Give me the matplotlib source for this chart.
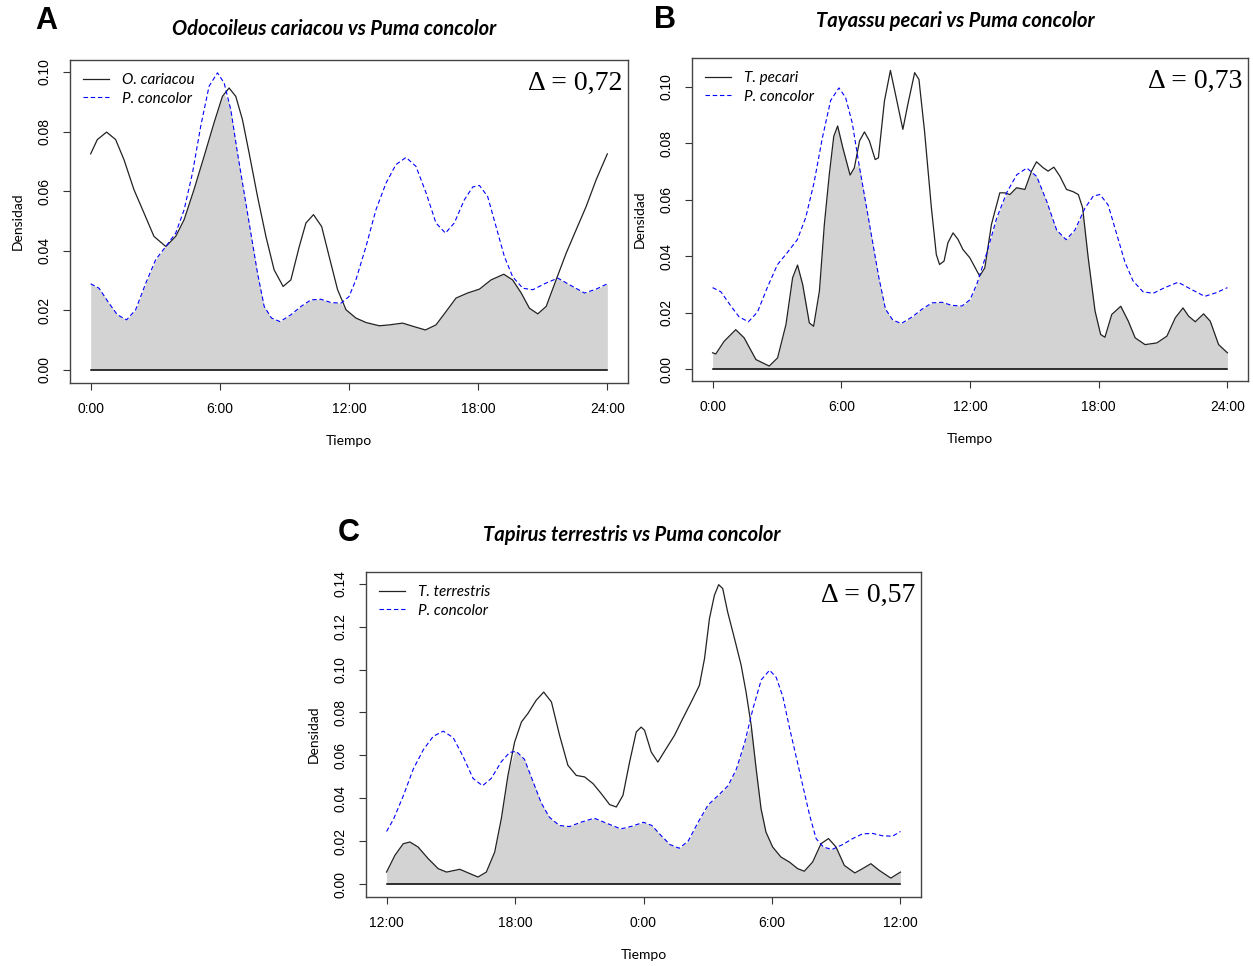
import numpy as np
import matplotlib
matplotlib.use("Agg")
import matplotlib.pyplot as plt

# ---------------------------------------------------------------
# densities (hour of day, density)

# Puma concolor (same curve in the three panels)
puma_h = [0.0, 0.39, 0.85, 1.24, 1.67, 2.09, 2.56, 3.02, 3.49, 3.95, 4.34, 4.73, 5.11, 5.5,
          5.89, 6.2, 6.51, 6.82, 7.13, 7.44, 7.75, 8.06, 8.4, 8.8, 9.3, 9.77, 10.23, 10.7,
          11.16, 11.63, 12.0, 12.32, 12.79, 13.25, 13.72, 14.18, 14.65, 15.11, 15.58, 16.04,
          16.48, 16.89, 17.36, 17.75, 18.06, 18.44, 18.83, 19.22, 19.6, 20.07, 20.54, 21.08,
          21.7, 22.24, 22.94, 23.48, 24.0]
puma_d = [0.0289, 0.0274, 0.0224, 0.0185, 0.0168, 0.0202, 0.0291, 0.0370, 0.0414, 0.0459,
          0.0537, 0.0661, 0.0817, 0.0952, 0.0997, 0.0963, 0.0873, 0.0728, 0.0594, 0.0459,
          0.0325, 0.0213, 0.0174, 0.0162, 0.0185, 0.0213, 0.0235, 0.0237, 0.0226, 0.0224,
          0.0246, 0.0302, 0.0414, 0.0537, 0.0627, 0.0689, 0.0713, 0.0683, 0.0594, 0.0493,
          0.0459, 0.0493, 0.0571, 0.0614, 0.0619, 0.0582, 0.0481, 0.0380, 0.0313, 0.0274,
          0.0269, 0.0289, 0.0308, 0.0286, 0.0258, 0.0271, 0.0289]

# Odocoileus cariacou
venado_h = [0.0, 0.31, 0.74, 1.16, 1.55, 2.01, 2.48, 2.94, 3.49, 3.95, 4.34, 4.8, 5.27, 5.73,
            6.12, 6.43, 6.74, 7.05, 7.36, 7.75, 8.14, 8.52, 8.94, 9.3, 9.69, 10.0, 10.35,
            10.73, 11.08, 11.47, 11.86, 12.32, 12.79, 13.41, 13.87, 14.49, 15.03, 15.55,
            16.04, 16.51, 16.97, 17.51, 18.06, 18.6, 19.19, 19.6, 20.0, 20.38, 20.77, 21.16,
            21.62, 22.09, 22.55, 23.02, 23.48, 24.0]
venado_d = [0.0725, 0.0773, 0.0798, 0.0773, 0.0705, 0.0605, 0.0526, 0.0448, 0.0414, 0.0448,
            0.0504, 0.0605, 0.0717, 0.0829, 0.0918, 0.0946, 0.0918, 0.0840, 0.0728, 0.0582,
            0.0448, 0.0336, 0.0280, 0.0302, 0.0414, 0.0493, 0.0521, 0.0481, 0.0380, 0.0269,
            0.0202, 0.0174, 0.0159, 0.0148, 0.0151, 0.0157, 0.0145, 0.0134, 0.0151, 0.0196,
            0.0241, 0.0258, 0.0271, 0.0302, 0.0321, 0.0302, 0.0258, 0.0207, 0.0188, 0.0213,
            0.0302, 0.0392, 0.0470, 0.0549, 0.0638, 0.0725]

# Tayassu pecari
pecari_h = [0.0, 0.15, 0.54, 1.08, 1.47, 2.02, 2.64, 3.03, 3.42, 3.73, 3.96, 4.2, 4.51, 4.71,
            4.98, 5.21, 5.44, 5.65, 5.83, 6.07, 6.41, 6.61, 6.85, 7.08, 7.31, 7.58, 7.73,
            8.01, 8.29, 8.56, 8.87, 9.1, 9.42, 9.62, 9.88, 10.2, 10.43, 10.58, 10.79, 10.97,
            11.21, 11.44, 11.67, 11.99, 12.45, 12.69, 13.0, 13.39, 13.62, 13.86, 14.17, 14.56,
            14.87, 15.1, 15.41, 15.64, 15.91, 16.19, 16.5, 16.81, 17.05, 17.25, 17.51, 17.83,
            18.09, 18.29, 18.61, 19.03, 19.38, 19.7, 20.16, 20.71, 21.18, 21.57, 21.93, 22.19,
            22.5, 22.89, 23.2, 23.59, 24.0]
pecari_d = [0.0058, 0.0054, 0.0099, 0.0140, 0.0111, 0.0034, 0.0011, 0.0040, 0.0158, 0.0324,
            0.0369, 0.0300, 0.0164, 0.0152, 0.0277, 0.0513, 0.0690, 0.0826, 0.0862, 0.0785,
            0.0688, 0.0714, 0.0809, 0.0841, 0.0809, 0.0743, 0.0749, 0.0950, 0.1059, 0.0962,
            0.0850, 0.0938, 0.1051, 0.1027, 0.0844, 0.0572, 0.0406, 0.0371, 0.0383, 0.0448,
            0.0483, 0.0460, 0.0424, 0.0395, 0.0330, 0.0359, 0.0513, 0.0625, 0.0625, 0.0619,
            0.0643, 0.0637, 0.0702, 0.0735, 0.0714, 0.0702, 0.0716, 0.0684, 0.0637, 0.0629,
            0.0619, 0.0572, 0.0395, 0.0206, 0.0123, 0.0113, 0.0194, 0.0223, 0.0170, 0.0111,
            0.0087, 0.0093, 0.0117, 0.0182, 0.0217, 0.0188, 0.0168, 0.0196, 0.0170, 0.0087,
            0.0058]

# Tapirus terrestris (hours from 12:00 to 12:00 of next day -> 12..36)
tapir_h = [12.0, 12.39, 12.78, 13.09, 13.47, 13.94, 14.41, 14.8, 15.42, 15.89, 16.27, 16.66,
           17.05, 17.36, 17.67, 17.98, 18.3, 18.6, 18.99, 19.34, 19.7, 20.08, 20.47, 20.86,
           21.25, 21.64, 22.03, 22.42, 22.73, 23.04, 23.35, 23.66, 23.89, 24.05, 24.36,
           24.67, 25.06, 25.45, 25.83, 26.23, 26.61, 26.85, 27.08, 27.31, 27.51, 27.7, 27.93,
           28.25, 28.56, 28.79, 29.03, 29.26, 29.49, 29.72, 30.03, 30.42, 30.81, 31.2, 31.51,
           31.9, 32.29, 32.64, 32.99, 33.38, 33.87, 34.23, 34.62, 35.01, 35.55, 36.0]
tapir_d = [0.0057, 0.0135, 0.0189, 0.0197, 0.0174, 0.0120, 0.0073, 0.0057, 0.0070, 0.0050,
           0.0034, 0.0057, 0.0150, 0.0306, 0.0507, 0.0662, 0.0756, 0.0795, 0.0857, 0.0895,
           0.0849, 0.0694, 0.0554, 0.0507, 0.0500, 0.0469, 0.0422, 0.0371, 0.0360, 0.0414,
           0.0569, 0.0709, 0.0732, 0.0717, 0.0616, 0.0569, 0.0632, 0.0694, 0.0771, 0.0849,
           0.0926, 0.1051, 0.1237, 0.1345, 0.1395, 0.1377, 0.1268, 0.1144, 0.1020, 0.0895,
           0.0740, 0.0539, 0.0352, 0.0243, 0.0174, 0.0127, 0.0104, 0.0073, 0.0061, 0.0104,
           0.0189, 0.0213, 0.0174, 0.0088, 0.0053, 0.0073, 0.0096, 0.0065, 0.0029, 0.0057]

deltas = ["0,72", "0,73", "0,57"]
#------------------------------------------------------------------

W, H = 1253, 966
fig = plt.figure(figsize=(W / 100, H / 100), dpi=100)


def box(l, t, r, b):
    # pixel box -> figure fraction
    return [l / W, 1 - b / H, (r - l) / W, (b - t) / H]


def panel(rect, x1, y1, x2, y2, name, delta, ticks, ticklabels, ylim, yticks):
    ax = fig.add_axes(rect)
    x1 = np.asarray(x1); x2 = np.asarray(x2)
    # overlap area (minimum of both densities)
    xs = np.union1d(x1, x2)
    low = np.minimum(np.interp(xs, x1, y1), np.interp(xs, x2, y2))
    ax.fill_between(xs, 0, low, color="#d3d3d3", lw=0)
    ax.plot([xs[0], xs[-1]], [0, 0], color="black", lw=1.1)
    ax.plot(x1, y1, color="#222222", lw=0.9, label=name)
    ax.plot(x2, y2, color="blue", lw=0.8, ls=(0, (4, 2.5)), label="P. concolor")

    ax.set_xlim(ticks[0] - 0.96, ticks[-1] + 0.96)
    ax.set_ylim(*ylim)
    ax.set_xticks(ticks)
    ax.set_xticklabels(ticklabels, family="Liberation Sans", fontsize=10)
    ax.set_yticks(yticks)
    ax.set_yticklabels(["%.2f" % v for v in yticks], family="Liberation Sans",
                       fontsize=10, rotation=90, va="center")
    ax.tick_params(length=5, width=0.8, color="#333333")
    ax.tick_params(axis="x", pad=8.5)
    ax.tick_params(axis="y", pad=8)
    for s in ax.spines.values():
        s.set_color("#444444")
        s.set_linewidth(1.0)
    ax.set_xlabel("Tiempo", family="Lato", fontsize=10, labelpad=14)
    ax.set_ylabel("Densidad", family="Lato", fontsize=10, labelpad=10)
    ax.legend(loc="upper left", frameon=False, handlelength=1.7,
              prop={"family": "Lato", "style": "italic", "size": 11},
              borderaxespad=0.25, labelspacing=0.3, handletextpad=0.85,
              borderpad=0.6)
    ax.text(0.99, 0.965, "Δ = " + delta, transform=ax.transAxes, ha="right", va="top",
            family="Liberation Serif", fontsize=20)
    return ax


hours = [0, 6, 12, 18, 24]
hlabels = ["0:00", "6:00", "12:00", "18:00", "24:00"]

# panel A
panel(box(70, 60, 628, 383), venado_h, venado_d, puma_h, puma_d, "O. cariacou", deltas[0],
      hours, hlabels, (-0.0044, 0.104), [0, 0.02, 0.04, 0.06, 0.08, 0.10])

# panel B
panel(box(692, 58, 1248, 381), pecari_h, pecari_d, puma_h, puma_d, "T. pecari", deltas[1],
      hours, hlabels, (-0.0042, 0.1103), [0, 0.02, 0.04, 0.06, 0.08, 0.10])

# panel C: puma shifted to 12:00 - 12:00
ph = np.array(puma_h); pd_ = np.array(puma_d)
puma_c_h = np.concatenate([ph[ph >= 12], ph[ph <= 12][1:] + 24])
puma_c_d = np.concatenate([pd_[ph >= 12], pd_[ph <= 12][1:]])
panel(box(366, 572, 921, 897), tapir_h, tapir_d, puma_c_h, puma_c_d, "T. terrestris",
      deltas[2], [12, 18, 24, 30, 36], ["12:00", "18:00", "0:00", "6:00", "12:00"],
      (-0.0059, 0.1454), [0, 0.02, 0.04, 0.06, 0.08, 0.10, 0.12, 0.14])

# titles and panel letters
titles = [("Odocoileus cariacou vs Puma concolor", 334, 29),
          ("Tayassu pecari vs Puma concolor", 955, 21),
          ("Tapirus terrestris vs Puma concolor", 632, 535)]
for txt, x, y in titles:
    fig.text(x / W, 1 - y / H, txt, ha="center", va="center", family="Lato",
             weight="bold", style="italic", fontsize=14.5)

for lt, x, y in [("A", 46, 21), ("B", 665, 20), ("C", 349, 533)]:
    fig.text(x / W, 1 - y / H, lt, ha="center", va="center", family="Liberation Sans",
             weight="bold", fontsize=22)

fig.savefig("out.png", dpi=100)
